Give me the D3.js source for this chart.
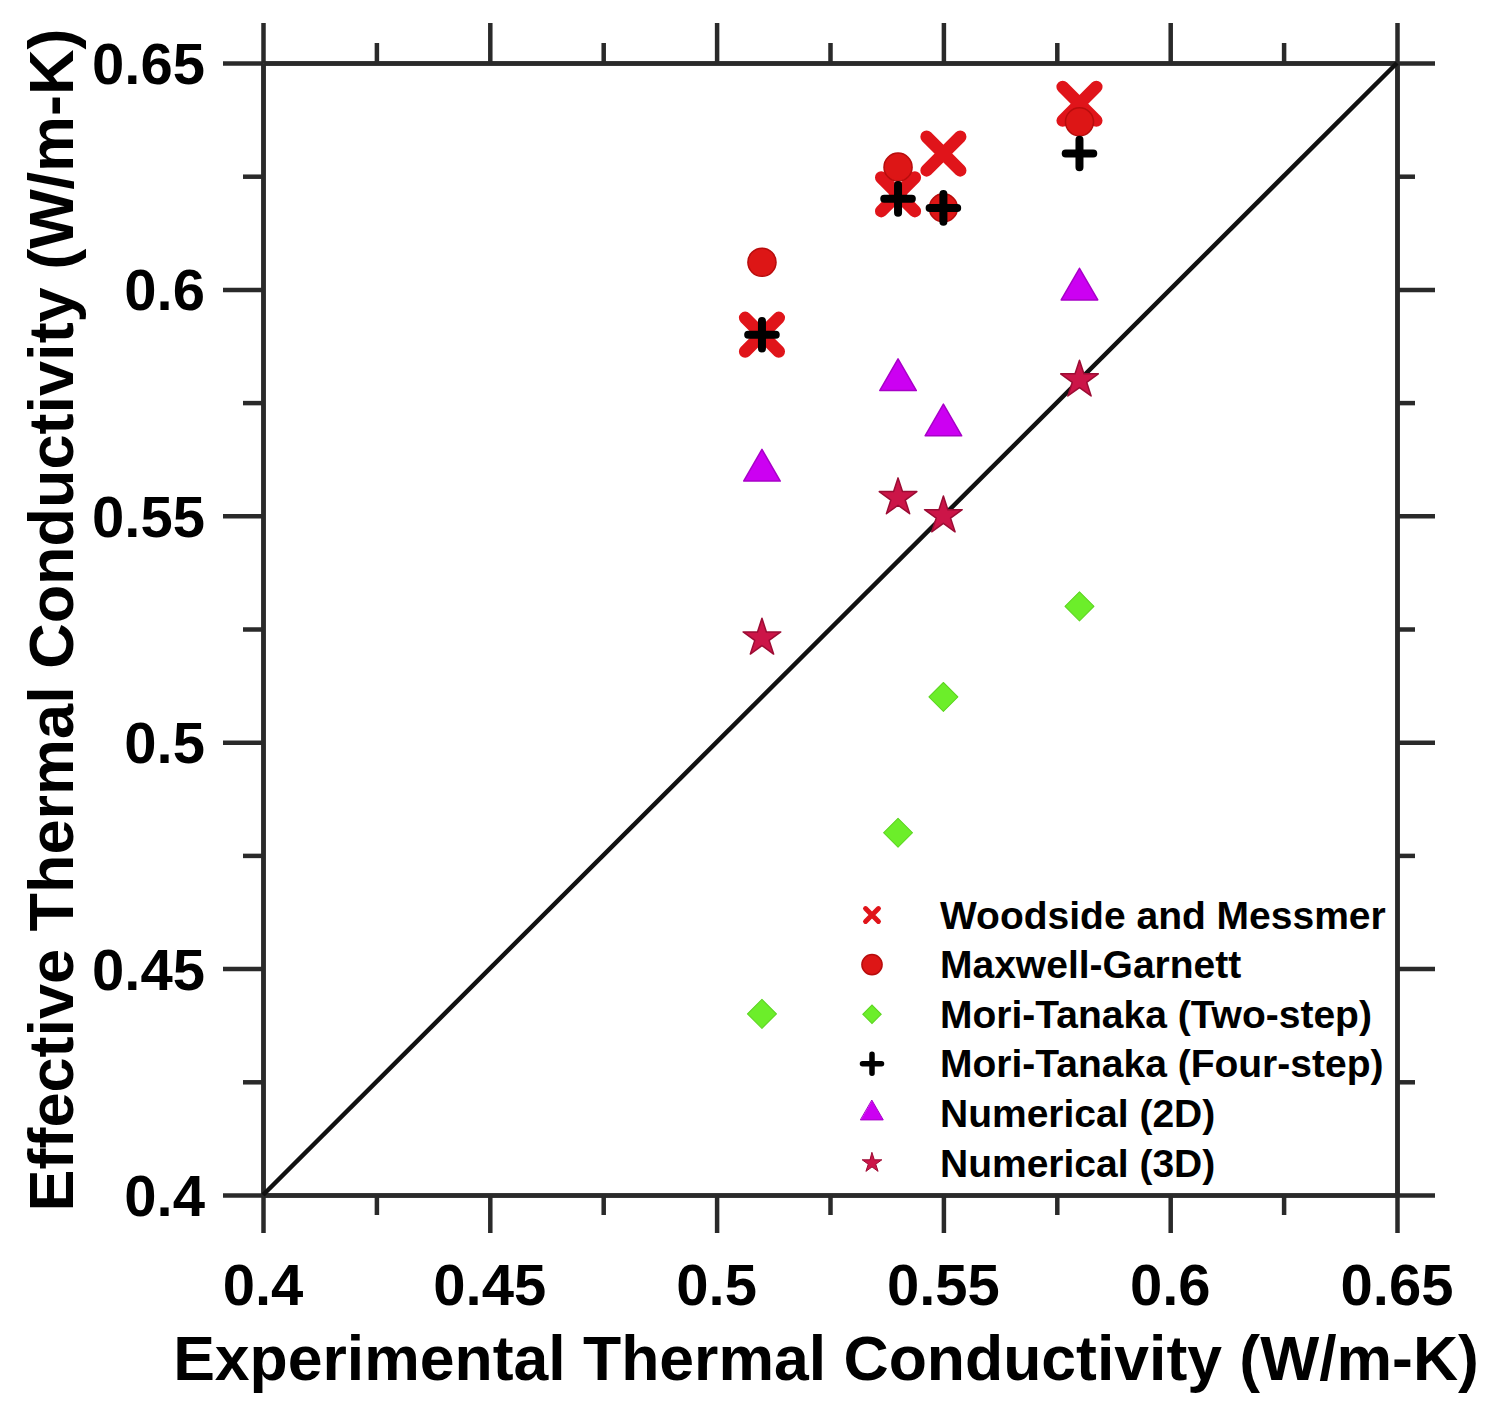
<!DOCTYPE html>
<html><head><meta charset="utf-8">
<script src="https://cdn.jsdelivr.net/npm/d3@7"></script>
<style>
html,body{margin:0;padding:0;background:#fff;}
svg{display:block;}
text{font-family:"Liberation Sans",Arial,sans-serif;font-weight:bold;fill:#000;}
</style></head>
<body>
<svg id="chart" width="1499" height="1417"></svg>
<script>
// Data
const experimental = [0.51, 0.54, 0.55, 0.58];
const woodside     = [0.590, 0.621, 0.630, 0.641];
const maxwell      = [0.606, 0.627, 0.618, 0.637];
const moriTwo      = [0.440, 0.480, 0.510, 0.530];
const moriFour     = [0.590, 0.620, 0.618, 0.630];
const numerical2D  = [0.560, 0.580, 0.570, 0.600];
const numerical3D  = [0.523, 0.554, 0.550, 0.580];
const majorTicks   = [0.4, 0.45, 0.5, 0.55, 0.6, 0.65];
const minorTicks   = [0.425, 0.475, 0.525, 0.575, 0.625];
const tickLabels   = ["0.4", "0.45", "0.5", "0.55", "0.6", "0.65"];
const seriesNames  = ["Woodside and Messmer", "Maxwell-Garnett", "Mori-Tanaka (Two-step)",
                      "Mori-Tanaka (Four-step)", "Numerical (2D)", "Numerical (3D)"];
const xTitle = "Experimental Thermal Conductivity (W/m-K)";
const yTitle = "Effective Thermal Conductivity (W/m-K)";

const svg = d3.select("#chart");
const L = 263, R = 1397, T = 63, B = 1195;
const x = d3.scaleLinear().domain([0.4, 0.65]).range([L, R]);
const y = d3.scaleLinear().domain([0.4, 0.65]).range([B, T]);
const axisColor = "#2a2a2a", axisW = 4.5;

// Axes
function styleAxis(g) {
  g.select(".domain").attr("stroke", axisColor).attr("stroke-width", axisW);
  g.selectAll(".tick line").attr("stroke", axisColor).attr("stroke-width", axisW);
  g.selectAll(".tick text").remove();
}
const mk = (axisFn, scale, size, ticks) => axisFn(scale).tickValues(ticks).tickSize(size).tickSizeOuter(0).tickFormat("");
// bottom
svg.append("g").attr("transform", `translate(0,${B})`).call(mk(d3.axisBottom, x, 38, majorTicks)).call(styleAxis);
svg.append("g").attr("transform", `translate(0,${B})`).call(mk(d3.axisBottom, x, 20, minorTicks)).call(styleAxis);
// top
svg.append("g").attr("transform", `translate(0,${T})`).call(mk(d3.axisTop, x, 40, majorTicks)).call(styleAxis);
svg.append("g").attr("transform", `translate(0,${T})`).call(mk(d3.axisTop, x, 20, minorTicks)).call(styleAxis);
// left
svg.append("g").attr("transform", `translate(${L},0)`).call(mk(d3.axisLeft, y, 40, majorTicks)).call(styleAxis);
svg.append("g").attr("transform", `translate(${L},0)`).call(mk(d3.axisLeft, y, 20, minorTicks)).call(styleAxis);
// right
svg.append("g").attr("transform", `translate(${R},0)`).call(mk(d3.axisRight, y, 38, majorTicks)).call(styleAxis);
svg.append("g").attr("transform", `translate(${R},0)`).call(mk(d3.axisRight, y, 18, minorTicks)).call(styleAxis);

// Tick labels
svg.append("g").selectAll("text").data(majorTicks).join("text")
  .attr("x", d => x(d)).attr("y", B + 110).attr("text-anchor", "middle")
  .style("font-size", "58px").text((d, i) => tickLabels[i]);
svg.append("g").selectAll("text").data(majorTicks).join("text")
  .attr("x", 205).attr("y", d => y(d) + 21).attr("text-anchor", "end")
  .style("font-size", "58px").text((d, i) => tickLabels[i]);

// Axis titles
svg.append("text").attr("x", 826).attr("y", 1380).attr("text-anchor", "middle")
  .style("font-size", "62.5px").text(xTitle);
svg.append("text").attr("transform", `translate(73,620) rotate(-90)`).attr("text-anchor", "middle")
  .style("font-size", "63px").text(yTitle);

// Diagonal line
svg.append("line").attr("x1", x(0.4)).attr("y1", y(0.4)).attr("x2", x(0.65)).attr("y2", y(0.65))
  .attr("stroke", "#111").attr("stroke-width", 4.5);

// Series definitions
const series = [
  {name: seriesNames[0], vals: woodside, type: d3.symbolTimes, size: 740, fill: "none", stroke: "#e0141a", sw: 12.5, lsize: 110, lsw: 5},
  {name: seriesNames[1], vals: maxwell, type: d3.symbolCircle, size: 620, fill: "#dd1616", stroke: "#b80c0c", sw: 1.5, lsize: 320, lsw: 1.5},
  {name: seriesNames[2], vals: moriTwo, type: d3.symbolSquare, size: 420, fill: "#6cee2a", stroke: "#5ad41e", sw: 1, rot: 45, lsize: 170, lsw: 1},
  {name: seriesNames[3], vals: moriFour, type: d3.symbolPlus, size: 250, fill: "none", stroke: "#000", sw: 8, lsize: 120, lsw: 5.5},
  {name: seriesNames[4], vals: numerical2D, type: d3.symbolTriangle, size: 580, fill: "#cc00f2", stroke: "#a800c8", sw: 1.5, lsize: 220, lsw: 1},
  {name: seriesNames[5], vals: numerical3D, type: d3.symbolStar, size: 440, fill: "#cc1548", stroke: "#9c0c34", sw: 1.5, lsize: 120, lsw: 1}
];

const marks = svg.append("g");
series.forEach(s => {
  marks.append("g").selectAll("path").data(s.vals.map((v, i) => [experimental[i], v])).join("path")
    .attr("d", d3.symbol().type(s.type).size(s.size))
    .attr("transform", d => `translate(${x(d[0])},${y(d[1])})${s.rot ? ` rotate(${s.rot})` : ""}`)
    .attr("fill", s.fill).attr("stroke", s.stroke).attr("stroke-width", s.sw)
    .attr("stroke-linecap", "round").attr("stroke-linejoin", "round");
});

// Legend
const legY0 = 915, legDY = 49.6;
const leg = svg.append("g");
series.forEach((s, i) => {
  const cy = legY0 + i * legDY;
  leg.append("path").attr("d", d3.symbol().type(s.type).size(s.lsize)())
    .attr("transform", `translate(872,${cy})${s.rot ? ` rotate(${s.rot})` : ""}`)
    .attr("fill", s.fill).attr("stroke", s.stroke).attr("stroke-width", s.lsw)
    .attr("stroke-linecap", "round");
  leg.append("text").attr("x", 940).attr("y", cy + 13.5).style("font-size", "39px").text(s.name);
});
</script>
</body></html>
